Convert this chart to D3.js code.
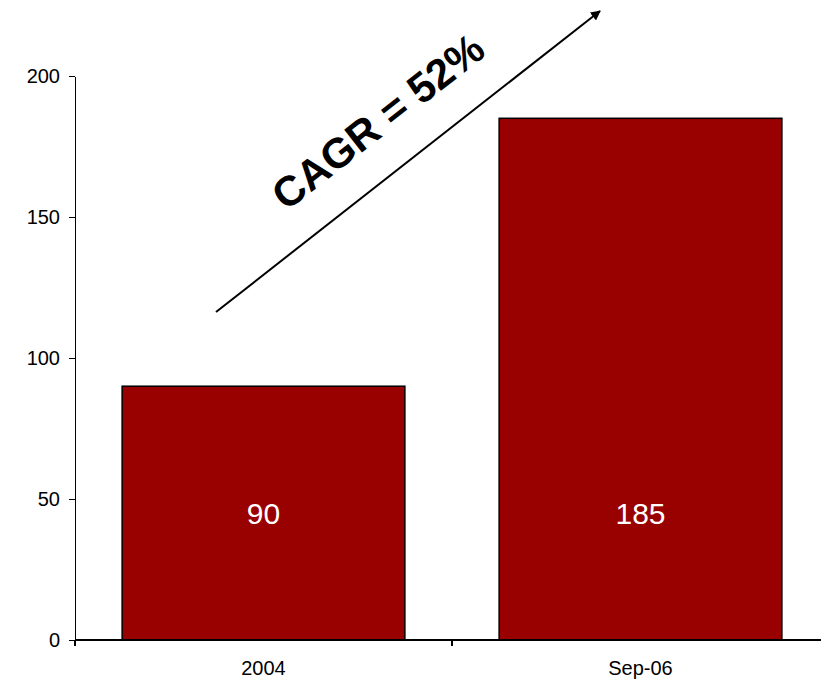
<!DOCTYPE html>
<html>
<head>
  <meta charset="utf-8">
  <script src="https://d3js.org/d3.v7.min.js"></script>
  <style>
    body { margin: 0; background: #fff; }
    svg { display: block; font-family: Arial, "Liberation Sans", sans-serif; }
    .axis path, .axis line { stroke: #000; stroke-width: 1.5px; shape-rendering: crispEdges; }
    .axis text { font-size: 20px; fill: #000; }
    .bar { fill: #990000; stroke: #000; stroke-width: 1.5px; }
    .value { fill: #fff; font-size: 30px; text-anchor: middle; }
    .cagr { font-size: 42px; font-weight: bold; fill: #000; }
  </style>
</head>
<body>
  <svg id="chart"></svg>
  <script>

    var categories = ["2004", "Sep-06"];
    var values = [90, 185];
    var yTicks = [0, 50, 100, 150, 200];
    var cagrLabel = "CAGR = 52%";

    var width = 821, height = 680;
    var margin = {top: 76, left: 75, bottom: 40};

    var svg = d3.select("#chart")
        .attr("width", width)
        .attr("height", height);

    var x = d3.scaleBand()
        .domain(categories)
        .range([margin.left, 829])
        .paddingInner(0.25)
        .paddingOuter(0.125);

    var y = d3.scaleLinear()
        .domain([0, 200])
        .range([height - margin.bottom, margin.top]);

    svg.append("defs").append("marker")
        .attr("id", "arrow")
        .attr("viewBox", "0 0 10 10")
        .attr("refX", 9)
        .attr("refY", 5)
        .attr("markerWidth", 5)
        .attr("markerHeight", 5)
        .attr("orient", "auto")
      .append("path")
        .attr("d", "M0,0 L10,5 L0,10 z")
        .attr("fill", "#000");

    // bars
    svg.append("g")
      .selectAll("rect")
      .data(values)
      .enter().append("rect")
        .attr("class", "bar")
        .attr("x", function(d, i) { return x(categories[i]); })
        .attr("y", function(d) { return y(d); })
        .attr("width", x.bandwidth())
        .attr("height", function(d) { return y(0) - y(d); });

    // values sit at the mid height of the smaller bar
    var labelY = y(d3.min(values) / 2);
    svg.append("g")
      .selectAll("text")
      .data(values)
      .enter().append("text")
        .attr("class", "value")
        .attr("x", function(d, i) { return x(categories[i]) + x.bandwidth() / 2; })
        .attr("y", labelY)
        .attr("dy", "0.35em")
        .text(function(d) { return d; });

    // y axis
    var yAxis = svg.append("g")
        .attr("class", "axis")
        .attr("transform", "translate(" + margin.left + ",0)")
        .call(d3.axisLeft(y).tickValues(yTicks).tickSize(6).tickSizeOuter(0));
    yAxis.selectAll("text").attr("x", -15);

    // x axis: ticks between categories, excel style
    var xAxis = svg.append("g")
        .attr("class", "axis")
        .attr("transform", "translate(0," + y(0) + ")");
    xAxis.append("line")
        .attr("x1", margin.left).attr("x2", width);
    var step = x.step();
    xAxis.selectAll(".tick")
      .data(d3.range(categories.length + 1))
      .enter().append("line")
        .attr("class", "tick")
        .attr("x1", function(i) { return margin.left + i * step; })
        .attr("x2", function(i) { return margin.left + i * step; })
        .attr("y1", 0).attr("y2", 6);
    xAxis.selectAll("text")
      .data(categories)
      .enter().append("text")
        .attr("x", function(d, i) { return margin.left + (i + 0.5) * step; })
        .attr("y", 35)
        .attr("text-anchor", "middle")
        .text(function(d) { return d; });

    // growth arrow and label
    svg.append("line")
        .attr("x1", 216).attr("y1", 312)
        .attr("x2", 600).attr("y2", 11)
        .attr("stroke", "#000")
        .attr("stroke-width", 2)
        .attr("marker-end", "url(#arrow)");

    svg.append("text")
        .attr("class", "cagr")
        .attr("text-anchor", "middle")
        .attr("transform", "translate(387,133) rotate(-38)")
        .text(cagrLabel);

  </script>
</body>
</html>
